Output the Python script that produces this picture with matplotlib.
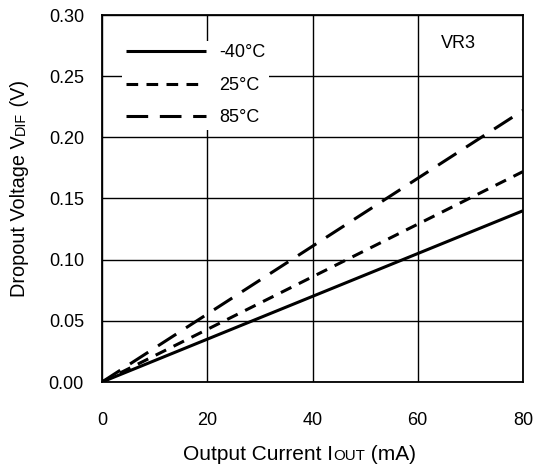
import matplotlib
matplotlib.use("Agg")
import matplotlib.pyplot as plt

plt.rcParams['font.family'] = ['Liberation Sans', 'DejaVu Sans']
plt.rcParams['lines.scale_dashes'] = False

# Dropout voltage vs output current for three temperatures
current_ma = [0, 20, 40, 60, 80]
vdif_m40 = [0.0, 0.035, 0.070, 0.105, 0.140]
vdif_25 = [0.0, 0.043, 0.086, 0.129, 0.172]
vdif_85 = [0.0, 0.0555, 0.111, 0.1665, 0.222]
series_labels = ['-40\u00b0C', '25\u00b0C', '85\u00b0C']
x_ticks = [0, 20, 40, 60, 80]
y_ticks = [0.00, 0.05, 0.10, 0.15, 0.20, 0.25, 0.30]

W, H = 535, 473
fig = plt.figure(figsize=(W / 100, H / 100), dpi=100)
ax = fig.add_axes([102 / W, 1 - 382 / H, 421 / W, 367 / H])

lw = 2.2
ax.plot(current_ma, vdif_m40, color='black', lw=lw, solid_capstyle='butt',
        label=series_labels[0])
ax.plot(current_ma, vdif_25, color='black', lw=lw, linestyle=(0, (8.4, 6.0)),
        label=series_labels[1])
ax.plot(current_ma, vdif_85, color='black', lw=lw, linestyle=(0, (15.6, 8.4)),
        label=series_labels[2])

fs = 13
ax.set_xlim(0, 80)
ax.set_ylim(0, 0.30)
ax.set_xticks(x_ticks)
ax.set_yticks(y_ticks)
ax.set_xticklabels([str(v) for v in x_ticks])
ax.set_yticklabels([f'{v:.2f}' for v in y_ticks])
ax.tick_params(axis='both', length=0, labelsize=fs, colors='black')
ax.tick_params(axis='x', pad=21.5)
ax.tick_params(axis='y', pad=13)
ax.grid(True, color='black', lw=1.0)
ax.set_axisbelow(True)
for sp in ax.spines.values():
    sp.set_linewidth(1.3)

leg = ax.legend(loc='upper left', bbox_to_anchor=(0.048, 0.93),
                borderaxespad=0, borderpad=0.2, handlelength=4.45,
                handletextpad=0.7, labelspacing=0.86, fontsize=fs,
                frameon=True, fancybox=False, framealpha=1,
                facecolor='white', edgecolor='none')
leg.set_zorder(5)

ax.text(67.8, 0.277, 'VR3', ha='center', va='center', fontsize=fs)

# Axis labels with small-caps style suffixes, built piece by piece
fig.canvas.draw()
renderer = fig.canvas.get_renderer()


def chain_text(pieces, x0, y0, target, rotation=0):
    def place(scale):
        made = []
        x, y = x0, y0
        total = 0.0
        for s, size in pieces:
            t = fig.text(x / W, 1 - y / H, s, fontsize=size * scale,
                         rotation=rotation, rotation_mode='anchor',
                         ha='left', va='baseline')
            bb = t.get_window_extent(renderer)
            step = bb.width if rotation == 0 else bb.height
            total += step
            if rotation == 0:
                x += step
            else:
                y -= step
            made.append(t)
        return made, total

    made, total = place(1.0)
    for t in made:
        t.remove()
    place(target / total)


main, small = 13.0, 9.4
chain_text([('Output Current I', main), ('OUT', small), (' (mA)', main)],
           183, 460, 232)
chain_text([('Dropout Voltage V', main), ('DIF', small), (' (V)', main)],
           25, 297, 217, rotation=90)

fig.savefig('out.png', dpi=100)
